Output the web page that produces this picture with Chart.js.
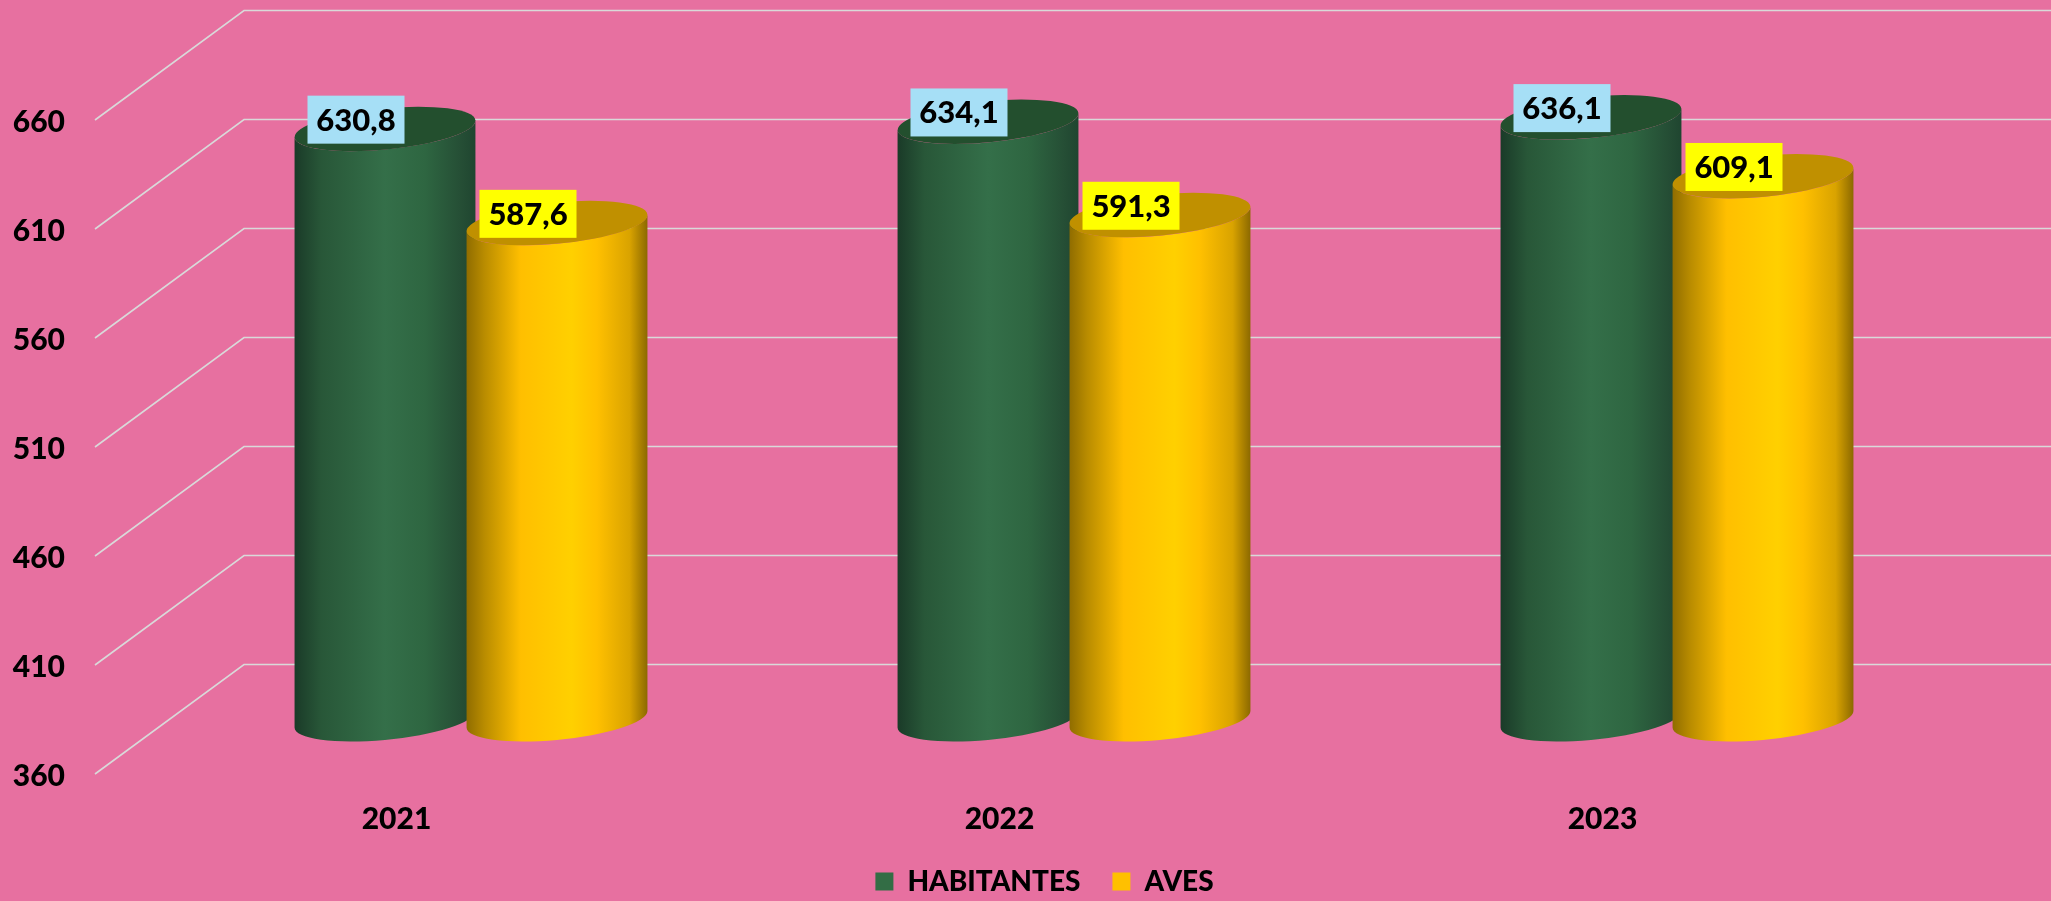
<!DOCTYPE html>
<html>
<head>
<meta charset="utf-8">
<style>
  html, body { margin: 0; padding: 0; background: #e770a0; }
  canvas { display: block; }
</style>
<script src="https://cdn.jsdelivr.net/npm/chart.js@4"></script>
</head>
<body>
<canvas id="chart" width="2051" height="901"></canvas>
<script>
const YEARS      = ['2021', '2022', '2023'];
const HABITANTES = [630.8, 634.1, 636.1];
const AVES       = [587.6, 591.3, 609.1];

const Y_MIN  = 360;
const Y_MAX  = 660;
const Y_STEP = 50;

const C = {
  grid:      '#d9d9d9',
  text:      '#000000',
  green:     '#336d45',
  greenTop:  '#234f2e',
  yellow:    '#ffc000',
  yellowTop: '#c09000',
  tagBlue:   '#a6dff6',
  tagYellow: '#ffff00',
};

const FONT = "Lato, 'Noto Sans', sans-serif";

// horizontal shading of the cylinder walls
const GREEN_WALL = [
  [0, '#1a3a28'], [0.15, '#285738'], [0.5, '#346f49'],
  [0.72, '#2e6641'], [0.92, '#254e35'], [1, '#1f4530'],
];
const YELLOW_WALL = [
  [0, '#8f6c00'], [0.1, '#b98c00'], [0.3, '#ffbf00'], [0.58, '#ffd000'],
  [0.72, '#ffc000'], [0.9, '#d9a300'], [1, '#8a6800'],
];

// floor depth: the back wall sits this far from the front edge
const DEPTH_X = 149;
const DEPTH_Y = -109.5;

// the top/bottom ellipses are tilted a little
const TILT = -5.5 * Math.PI / 180;
const RY_RATIO = 0.2266;

const TAG_W = 97;
const TAG_H = 48;

// ── 3D floor + wall lines ────────────────────────────────────────────────
function drawWalls(chart) {
  const { ctx, chartArea, scales: { y } } = chart;
  ctx.save();
  ctx.strokeStyle = C.grid;
  ctx.lineWidth = 1.6;
  y.ticks.forEach(t => {
    const py = y.getPixelForValue(t.value);
    ctx.beginPath();
    ctx.moveTo(chartArea.left, py);
    ctx.lineTo(chartArea.left + DEPTH_X, py + DEPTH_Y);
    ctx.lineTo(chartArea.right + DEPTH_X, py + DEPTH_Y);
    ctx.stroke();
  });
  ctx.restore();
}

// ── Cylinder from a bar element ──────────────────────────────────────────
function drawCylinder(ctx, bar, stops, topColor) {
  const cx = bar.x + DEPTH_X / 2;
  const top = bar.y + DEPTH_Y / 2;
  const bot = bar.base + DEPTH_Y / 2;
  const rx = bar.width / 2 * 1.004;
  const ry = rx * RY_RATIO;
  const t0 = Math.atan(-RY_RATIO * Math.tan(TILT));

  const grad = ctx.createLinearGradient(cx - rx, 0, cx + rx, 0);
  stops.forEach(s => grad.addColorStop(s[0], s[1]));

  ctx.beginPath();
  ctx.ellipse(cx, bot, rx, ry, TILT, t0, t0 + Math.PI);
  ctx.ellipse(cx, top, rx, ry, TILT, t0 + Math.PI, t0, true);
  ctx.closePath();
  ctx.fillStyle = grad;
  ctx.fill();

  ctx.beginPath();
  ctx.ellipse(cx, top, rx, ry, TILT, 0, Math.PI * 2);
  ctx.fillStyle = topColor;
  ctx.fill();
}

// ── Value tag ────────────────────────────────────────────────────────────
function drawTag(ctx, bar, value, color) {
  const cx = bar.x + 45.5;
  const cy = bar.y - 64;
  ctx.fillStyle = color;
  ctx.fillRect(cx - TAG_W / 2, cy - TAG_H / 2, TAG_W, TAG_H);
  ctx.fillStyle = C.text;
  ctx.font = `900 31px ${FONT}`;
  ctx.textAlign = 'center';
  ctx.textBaseline = 'middle';
  ctx.fillText(value.toFixed(1).replace('.', ','), cx, cy + 1);
}

const cylinderPlugin = {
  id: 'cylinders',
  afterLayout(chart) {
    // legend sits off the chart area's centre in the reference
    const lg = chart.legend;
    const h = lg.bottom - lg.top;
    lg.left = 19;
    lg.right = 2051 + 19;
    lg.top = 835.5;
    lg.bottom = lg.top + h;
    // year labels hang below the short axis box, don't clip them
    chart.scales.x.bottom = chart.height;
  },
  beforeDatasetsDraw(chart) {
    const { ctx } = chart;
    const green = chart.getDatasetMeta(0).data;
    const yellow = chart.getDatasetMeta(1).data;
    drawWalls(chart);
    YEARS.forEach((_, i) => {
      drawCylinder(ctx, green[i], GREEN_WALL, C.greenTop);
      drawCylinder(ctx, yellow[i], YELLOW_WALL, C.yellowTop);
    });
    YEARS.forEach((_, i) => {
      drawTag(ctx, green[i], HABITANTES[i], C.tagBlue);
      drawTag(ctx, yellow[i], AVES[i], C.tagYellow);
    });
    return false; // default flat bars not wanted
  },
};

new Chart(document.getElementById('chart'), {
  type: 'bar',
  data: {
    labels: YEARS,
    datasets: [
      { label: 'HABITANTES', data: HABITANTES, base: Y_MIN, backgroundColor: C.green },
      { label: 'AVES',       data: AVES,       base: Y_MIN, backgroundColor: C.yellow },
    ],
  },
  options: {
    responsive: false,
    animation: false,
    categoryPercentage: 0.5705,
    barPercentage: 1.052,
    layout: { padding: { top: 120, right: 147, left: 0, bottom: 0 } },
    plugins: {
      legend: {
        position: 'bottom',
        labels: {
          boxWidth: 18,
          boxHeight: 18,
          padding: 32,
          color: C.text,
          font: { family: FONT, size: 28, weight: '900' },
        },
      },
      tooltip: { enabled: false },
    },
    scales: {
      x: {
        grid: { display: false },
        border: { display: false },
        afterFit: s => { s.height = 127 - chartLegendHeight(s.chart); },
        ticks: {
          color: C.text,
          padding: 19,
          maxRotation: 0,
          font: { family: FONT, size: 30, weight: '900' },
        },
      },
      y: {
        min: Y_MIN,
        max: Y_MAX,
        grid: { display: false, drawTicks: false },
        border: { display: false },
        afterFit: s => { s.width = 95; },
        ticks: {
          stepSize: Y_STEP,
          color: C.text,
          padding: 30,
          labelOffset: 2.5,
          font: { family: FONT, size: 30, weight: '900' },
          callback: v => String(v),
        },
      },
    },
  },
  plugins: [cylinderPlugin],
});

function chartLegendHeight(chart) {
  return chart.legend ? chart.legend.height : 0;
}
</script>
</body>
</html>
